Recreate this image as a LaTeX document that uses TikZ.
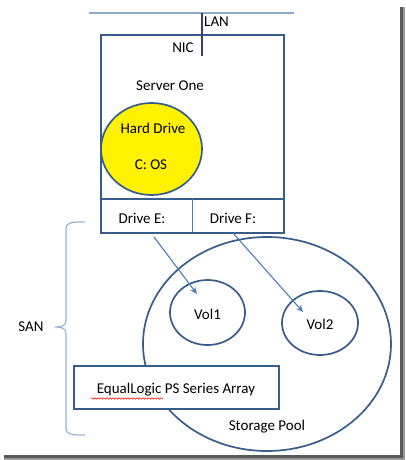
\documentclass[tikz,border=0pt]{standalone}
\usepackage{fontspec}
\setmainfont{Carlito}
\usetikzlibrary{arrows.meta,decorations.pathmorphing,shapes.geometric}
\definecolor{boxline}{HTML}{385D8A}
\definecolor{arrowc}{HTML}{4A7EBB}
\definecolor{bracec}{HTML}{95B3D7}
\definecolor{lanc}{HTML}{8EA9C8}
\definecolor{nicc}{HTML}{403D6A}
\tikzset{
  every node/.style={font=\fontsize{15}{18}\selectfont, inner sep=0pt},
  outline/.style={draw=boxline, line width=1.7pt},
  plain/.style={draw=none},
  conn/.style={draw=arrowc, line width=1.1pt, -{Stealth[length=7pt,width=6pt]}},
}
\begin{document}
\begin{tikzpicture}[x=1pt,y=-1pt]
\useasboundingbox (0,0) rectangle (405,460);
\fill[white] (0,0) rectangle (405,460);
% shadow
\fill[black!65] (400,7) rectangle (405,460);
\fill[black!65] (4,455) rectangle (405,460);
\fill[black!40] (402.5,7) rectangle (405,460);
\fill[black!40] (4,457.5) rectangle (405,460);

% LAN
\coordinate (lanL) at (89,13);
\coordinate (lanR) at (294,13);
\draw[lanc, line width=1.2pt] (lanL) -- (lanR);
\coordinate (nicTop) at (202,13);
\coordinate (nicBot) at (202,56);
\node[anchor=west] (lan) at (204,22) {LAN};

% server box
\node[outline, minimum width=183pt, minimum height=198pt, anchor=north west] (server) at (100,34) {};
\draw[nicc, line width=1.6pt] (nicTop) -- (nicBot);
\node (nic) at (183,48) {NIC};
\node (srv) at (170,86) {Server One};
\coordinate (divL) at (100,199);
\coordinate (divR) at (283,199);
\draw[boxline, line width=1.2pt] (divL) -- (divR);
\coordinate (vdT) at (192,199);
\coordinate (vdB) at (192,232);
\draw[arrowc, line width=1pt] (vdT) -- (vdB);
\node (driveE) at (142,218) {Drive E:};
\node (driveF) at (233,218) {Drive F:};

% hard drive
\node[outline, fill=yellow, ellipse, minimum width=101pt, minimum height=92pt] (hd) at (151.5,149) {};
\node (hdt) at (153,128) {Hard Drive};
\node (cos) at (151,165) {C: OS};

% storage pool
\draw[outline] (267,344) ellipse [x radius=124, y radius=107];
\node (pool) at (267,427) {Storage Pool};
\draw[outline] (207.5,312.5) ellipse [x radius=37.5, y radius=32.5];
\node (vol1) at (207.5,314) {Vol1};
\draw[outline] (320,323) ellipse [x radius=38, y radius=32];
\node (vol2) at (320,324) {Vol2};

% array box
\node[outline, fill=white, minimum width=205pt, minimum height=43pt, anchor=north west] (arr) at (73,365) {};
\node (arrt) at (176,390) {EqualLogic PS Series Array};
\draw[red, line width=0.5pt, decorate, decoration={snake, amplitude=0.8pt, segment length=3pt}] (91,398.5) -- (163,398.5);

% arrows
\coordinate (a1s) at (154,237);
\coordinate (a1e) at (197,294);
\coordinate (a2s) at (233,233);
\coordinate (a2e) at (303,312);
\draw[conn] (a1s) -- (a1e);
\draw[conn] (a2s) -- (a2e);

% brace
\draw[bracec, line width=1.2pt] (85,222) .. controls (72,222) and (66,222) .. (66,229) -- (66,320) .. controls (66,326) and (62,327) .. (55,327) .. controls (62,327) and (66,328) .. (66,334) -- (66,428) .. controls (66,435) and (72,435) .. (85,435);
\node (san) at (31,327) {SAN};
\end{tikzpicture}
\end{document}
